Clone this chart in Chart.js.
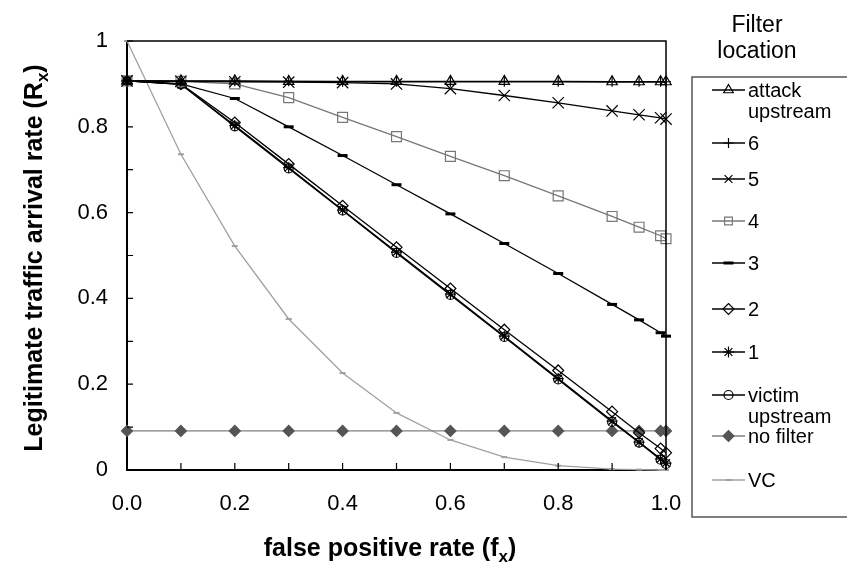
<!DOCTYPE html>
<html>
<head>
<meta charset="utf-8">
<script src="https://cdn.jsdelivr.net/npm/chart.js@4"></script>
<style>
  body { margin: 0; background: #fff; }
</style>
</head>
<body>
<canvas id="chart" width="847" height="578"></canvas>
<script>
// false positive rate values (x)
const fx = [0, 0.1, 0.2, 0.3, 0.4, 0.5, 0.6, 0.7, 0.8, 0.9, 0.95, 0.99, 1.0];

const names = ['attack upstream', '6', '5', '4', '3', '2', '1', 'victim upstream', 'no filter', 'VC'];

const attackUp = [0.907, 0.907, 0.907, 0.906, 0.906, 0.906, 0.906, 0.906, 0.906, 0.905, 0.905, 0.905, 0.905];
const loc6     = [0.907, 0.906, 0.906, 0.906, 0.905, 0.905, 0.905, 0.905, 0.905, 0.905, 0.905, 0.905, 0.905];
const loc5     = [0.907, 0.906, 0.905, 0.904, 0.903, 0.900, 0.889, 0.873, 0.856, 0.837, 0.828, 0.821, 0.818];
const loc4     = [0.907, 0.906, 0.900, 0.868, 0.822, 0.777, 0.731, 0.686, 0.639, 0.591, 0.566, 0.546, 0.539];
const loc3     = [0.907, 0.900, 0.866, 0.800, 0.733, 0.665, 0.597, 0.528, 0.458, 0.386, 0.350, 0.320, 0.312];
const loc2     = [0.907, 0.900, 0.810, 0.713, 0.616, 0.519, 0.423, 0.327, 0.232, 0.136, 0.087, 0.050, 0.040];
const loc1     = [0.907, 0.899, 0.803, 0.705, 0.606, 0.508, 0.410, 0.312, 0.213, 0.114, 0.065, 0.026, 0.016];
const victimUp = [0.907, 0.899, 0.801, 0.703, 0.605, 0.506, 0.408, 0.310, 0.211, 0.112, 0.064, 0.024, 0.014];
const noFilter = [0.091, 0.091, 0.091, 0.091, 0.091, 0.091, 0.091, 0.091, 0.091, 0.091, 0.091, 0.091, 0.091];
const vc       = [1.000, 0.736, 0.522, 0.352, 0.226, 0.133, 0.070, 0.030, 0.010, 0.002, 0.001, 0.000, 0.000];

const xTicks = [0, 0.2, 0.4, 0.6, 0.8, 1.0];
const yTicks = [0, 0.2, 0.4, 0.6, 0.8, 1];

const FONT = "'Liberation Sans', Arial, sans-serif";

function pts(ys) {
  return fx.map((x, i) => ({ x: x, y: ys[i] }));
}

function series(label, ys, color, style, radius, fill, extra) {
  return Object.assign({
    label: label,
    data: pts(ys),
    borderColor: color,
    borderWidth: 1.3,
    pointStyle: style,
    pointRadius: radius,
    pointBorderColor: color,
    pointBackgroundColor: fill,
    pointBorderWidth: 1.2,
    tension: 0,
    clip: false
  }, extra || {});
}

const datasets = [
  series(names[0], attackUp, '#000', 'triangle', 6, 'rgba(0,0,0,0)'),
  series(names[1], loc6, '#000', 'cross', 5, 'rgba(0,0,0,0)'),
  series(names[2], loc5, '#000', 'crossRot', 8, 'rgba(0,0,0,0)'),
  series(names[3], loc4, '#777', 'rect', 7, 'rgba(0,0,0,0)'),
  series(names[4], loc3, '#000', 'line', 5, '#000', { pointBorderWidth: 3 }),
  series(names[5], loc2, '#000', 'rectRot', 5.5, 'rgba(0,0,0,0)'),
  series(names[6], loc1, '#000', 'star', 5.5, 'rgba(0,0,0,0)'),
  series(names[7], victimUp, '#000', 'circle', 4.5, 'rgba(0,0,0,0)'),
  series(names[8], noFilter, '#808080', 'rectRot', 5.5, '#555', { pointBorderColor: '#555' }),
  series(names[9], vc, '#a0a0a0', 'line', 3, '#999', { pointBorderWidth: 2 })
];

// legend row positions (px)
const legendRows = [90, 143, 179, 221, 263, 309, 352, 395, 436, 480];

const decor = {
  id: 'decor',
  afterDraw(chart) {
    const ctx = chart.ctx;
    const a = chart.chartArea;
    const xs = chart.scales.x, ys = chart.scales.y;
    ctx.save();

    // frame top/right
    ctx.strokeStyle = '#000';
    ctx.lineWidth = 1.5;
    ctx.beginPath();
    ctx.moveTo(a.left, a.top);
    ctx.lineTo(a.right, a.top);
    ctx.lineTo(a.right, a.bottom);
    ctx.stroke();

    // inner ticks every 0.1
    ctx.lineWidth = 1.2;
    ctx.beginPath();
    for (let i = 1; i <= 10; i++) {
      const px = xs.getPixelForValue(i / 10);
      ctx.moveTo(px, a.bottom);
      ctx.lineTo(px, a.bottom - 7);
      const py = ys.getPixelForValue(i / 10);
      ctx.moveTo(a.left, py);
      ctx.lineTo(a.left + 6, py);
    }
    ctx.stroke();

    // axis titles with subscripts
    ctx.fillStyle = '#000';
    ctx.textBaseline = 'alphabetic';
    const drawSub = (main, sub, cx, cy) => {
      ctx.font = 'bold 25px ' + FONT;
      const w1 = ctx.measureText(main).width;
      const w3 = ctx.measureText(')').width;
      ctx.font = 'bold 17px ' + FONT;
      const w2 = ctx.measureText(sub).width;
      let x = cx - (w1 + w2 + w3) / 2;
      ctx.font = 'bold 25px ' + FONT;
      ctx.fillText(main, x, cy);
      x += w1;
      ctx.font = 'bold 17px ' + FONT;
      ctx.fillText(sub, x, cy + 6);
      x += w2;
      ctx.font = 'bold 25px ' + FONT;
      ctx.fillText(')', x, cy);
    };
    drawSub('false positive rate (f', 'x', 390, 556);
    ctx.save();
    ctx.translate(42, 258);
    ctx.rotate(-Math.PI / 2);
    drawSub('Legitimate traffic arrival rate (R', 'x', 0, 0);
    ctx.restore();

    // legend title
    ctx.font = '23px ' + FONT;
    ctx.textAlign = 'center';
    ctx.fillText('Filter', 757, 32);
    ctx.fillText('location', 757, 58);

    // legend box
    ctx.strokeStyle = '#555';
    ctx.lineWidth = 1.5;
    ctx.beginPath();
    ctx.moveTo(848, 77);
    ctx.lineTo(692, 77);
    ctx.lineTo(692, 517);
    ctx.lineTo(848, 517);
    ctx.stroke();

    // legend entries
    ctx.textAlign = 'left';
    chart.data.datasets.forEach((ds, i) => {
      const y = legendRows[i];
      ctx.strokeStyle = ds.borderColor;
      ctx.lineWidth = ds.borderWidth;
      ctx.beginPath();
      ctx.moveTo(712, y);
      ctx.lineTo(745, y);
      ctx.stroke();
      ctx.strokeStyle = ds.pointBorderColor;
      ctx.fillStyle = ds.pointBackgroundColor;
      ctx.lineWidth = ds.pointBorderWidth;
      Chart.helpers.drawPoint(ctx, {
        pointStyle: ds.pointStyle,
        radius: Math.min(ds.pointRadius, 5.5),
        rotation: 0,
        borderWidth: ds.pointBorderWidth
      }, 728.5, y);
      ctx.fillStyle = '#000';
      ctx.font = '20px ' + FONT;
      // simple wrap
      const words = ds.label.split(' ');
      const lines = [];
      let cur = '';
      words.forEach(w => {
        const t = cur ? cur + ' ' + w : w;
        if (ctx.measureText(t).width > 95 && cur) { lines.push(cur); cur = w; } else cur = t;
      });
      lines.push(cur);
      lines.forEach((ln, k) => ctx.fillText(ln, 748, y + 7 + k * 21));
    });

    ctx.restore();
  }
};

new Chart(document.getElementById('chart').getContext('2d'), {
  type: 'line',
  data: { datasets: datasets },
  options: {
    responsive: false,
    animation: false,
    layout: { padding: { left: 0, top: 41, right: 181, bottom: 0 } },
    plugins: { legend: { display: false }, tooltip: { enabled: false } },
    scales: {
      x: {
        type: 'linear', min: 0, max: 1,
        afterBuildTicks: s => { s.ticks = xTicks.map(v => ({ value: v })); },
        ticks: {
          callback: v => v.toFixed(1),
          color: '#000', font: { family: FONT, size: 22 }, padding: 21,
          maxRotation: 0, autoSkip: false
        },
        grid: { drawOnChartArea: false, drawTicks: false },
        border: { display: true, color: '#000', width: 2 },
        afterFit: s => { s.height = 108; }
      },
      y: {
        type: 'linear', min: 0, max: 1,
        afterBuildTicks: s => { s.ticks = yTicks.map(v => ({ value: v })); },
        ticks: {
          callback: v => (v === 0 || v === 1) ? String(v) : v.toFixed(1),
          color: '#000', font: { family: FONT, size: 22 }, padding: 19,
          autoSkip: false
        },
        grid: { drawOnChartArea: false, drawTicks: false },
        border: { display: true, color: '#000', width: 2 },
        afterFit: s => { s.width = 127; }
      }
    }
  },
  plugins: [decor]
});
</script>
</body>
</html>
